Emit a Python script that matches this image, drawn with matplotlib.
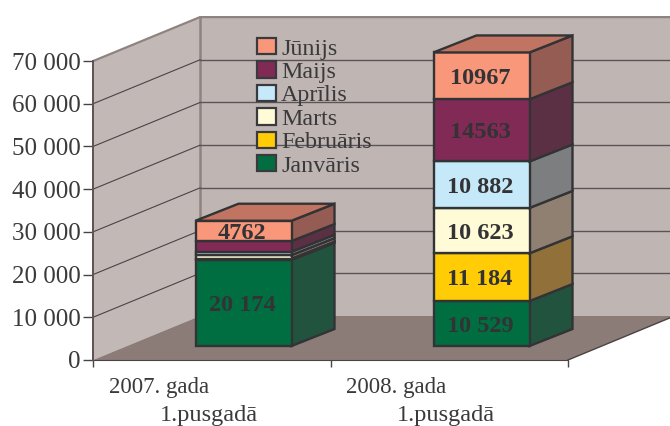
import matplotlib
matplotlib.use('Agg')
import matplotlib.pyplot as plt
from matplotlib.patches import Polygon, Patch

plt.rcParams['font.family'] = ['Liberation Serif', 'DejaVu Serif']

# Data
months = ['Janvāris', 'Februāris', 'Marts', 'Aprīlis', 'Maijs', 'Jūnijs']
values_2007 = [20174, 300, 800, 800, 2500, 4762]
values_2008 = [10529, 11184, 10623, 10882, 14563, 10967]
labels_2007 = ['20 174', '', '', '', '', '4762']
labels_2008 = ['10 529', '11 184', '10 623', '10 882', '14563', '10967']
cat_line1 = ['2007. gada', '2008. gada']
cat_line2 = ['1.pusgadā', '1.pusgadā']
yticks = [0, 10000, 20000, 30000, 40000, 50000, 60000, 70000]
ytick_labels = ['0', '10 000', '20 000', '30 000', '40 000', '50 000', '60 000', '70 000']

# Colours
front_cols = ['#006e41', '#ffcc05', '#fffbd6', '#c6e9fa', '#812a56', '#f9977a']
side_cols = ['#21533e', '#917039', '#908072', '#7c7e80', '#5c3044', '#945c52']
top_col = '#c07461'
wall_col = '#bfb6b4'
floor_col = '#8b7c78'
wall_edge = '#8f8381'
ink = '#3a3a3c'

# 1 unit of x is one pixel, y stays in chart values
px_per_val = 42.7 / 10000
def dv(px):
    return px / px_per_val

fig = plt.figure(figsize=(6.7, 4.26), dpi=100)
ax = fig.add_axes([93 / 670, (426 - 360) / 426, (670 - 93) / 670, (360 - 16) / 426])
ax.set_xlim(93, 670)
ax.set_ylim(0, dv(344))
ax.patch.set_visible(False)

wall_dx = 107
wall_dy = dv(44)
top = 70000

# Walls and floor
ax.add_patch(Polygon([(93 + wall_dx, wall_dy), (93 + wall_dx, top + wall_dy), (680, top + wall_dy), (680, wall_dy)],
                     fc=wall_col, ec='none', zorder=1))
ax.add_patch(Polygon([(93, 0), (93, top), (93 + wall_dx, top + wall_dy), (93 + wall_dx, wall_dy)],
                     fc='#c2b9b7', ec='none', zorder=1))
ax.add_patch(Polygon([(93, 0), (93 + wall_dx, wall_dy), (680, wall_dy), (568 + 112, dv(46)), (568, 0)],
                     fc=floor_col, ec='none', zorder=1))
ax.plot([93, 93 + wall_dx, 670], [top, top + wall_dy, top + wall_dy], color=wall_edge, lw=1.6, zorder=2)
ax.plot([93 + wall_dx, 93 + wall_dx], [wall_dy, top + wall_dy], color=wall_edge, lw=1.8, zorder=2)
ax.plot([568, 672], [0, dv(43)], color='#4a4444', lw=1, zorder=2)

# Gridlines
for v in yticks[1:-1]:
    ax.plot([93, 93 + wall_dx], [v, v + wall_dy], color='#4a4446', lw=0.8, zorder=2)
    ax.plot([93 + wall_dx, 670], [v + wall_dy, v + wall_dy], color='#5a5456', lw=1, zorder=2)

# Bars
bar_lefts = [195.5, 433.5]
bar_w = 96
base = dv(14)
dx = 43
dy = dv(17)
edge = dict(ec='#333336', lw=1.7, joinstyle='miter', zorder=3)

for x0, vals, labels in zip(bar_lefts, [values_2007, values_2008], [labels_2007, labels_2008]):
    x1 = x0 + bar_w
    bottom = base
    for i, v in enumerate(vals):
        t = bottom + v
        ax.add_patch(Polygon([(x1, bottom), (x1 + dx, bottom + dy), (x1 + dx, t + dy), (x1, t)],
                             fc=side_cols[i], **edge))
        ax.add_patch(Polygon([(x0, bottom), (x1, bottom), (x1, t), (x0, t)], fc=front_cols[i], **edge))
        if labels[i]:
            ax.text((x0 + x1) / 2 - 1.5, bottom + v / 2, labels[i], ha='center', va='center_baseline', fontsize=17.5,
                    fontweight='bold', color='#333336', zorder=4)
        bottom = t
    ax.add_patch(Polygon([(x0, bottom), (x1, bottom), (x1 + dx, bottom + dy), (x0 + dx, bottom + dy)],
                         fc=top_col, **edge))

# Axes
for s in ['top', 'right']:
    ax.spines[s].set_visible(False)
ax.spines['left'].set_bounds(0, 70000)
ax.spines['left'].set_color('#5c5254')
ax.spines['left'].set_linewidth(1.4)
ax.spines['bottom'].set_bounds(93, 568)
ax.spines['bottom'].set_color('#4a4446')
ax.spines['left'].set_zorder(5)
ax.set_yticks(yticks)
ax.set_yticklabels(ytick_labels, fontsize=18, color=ink)
ax.set_xticks([93, 330.5, 568])
ax.set_xticklabels([])
ax.tick_params(axis='y', length=7, width=1, color='#4a4446', pad=2)
ax.tick_params(axis='x', length=5, width=1, color='#4a4446')

# Category labels, two staggered lines
for x, a, b in zip([109, 346], cat_line1, cat_line2):
    ax.text(x, dv(-28), a, ha='left', va='center', fontsize=16.5, color=ink, clip_on=False)
    ax.text(x + 51, dv(-55.5), b, ha='left', va='center', fontsize=17.5, color=ink, clip_on=False)

# Legend, June on top
handles = [Patch(fc=front_cols[i], ec='#3a3a3e', lw=1.6) for i in range(5, -1, -1)]
ax.legend(handles, months[::-1], loc='upper left', bbox_to_anchor=((257 - 93) / 577, (360 - 38) / 344),
          frameon=False, fontsize=17.3, labelspacing=0.08, handlelength=0.78, handleheight=0.66,
          handletextpad=0.22, borderpad=0, borderaxespad=0, labelcolor=ink).set_zorder(4)

fig.savefig('out.png', dpi=100)
